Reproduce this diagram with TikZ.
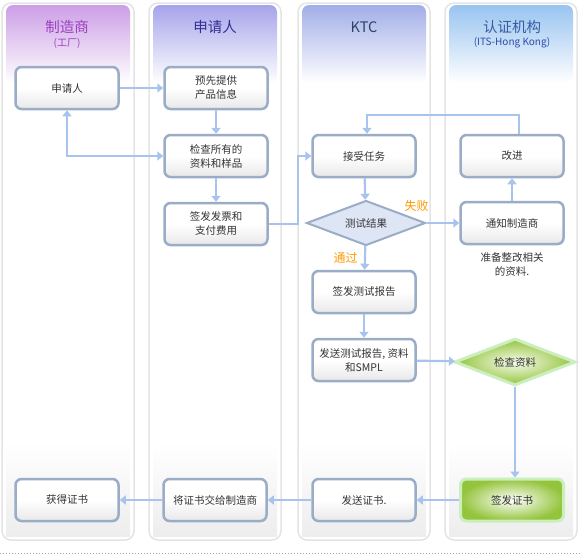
\documentclass[tikz,border=0pt]{standalone}
\usepackage{fontspec}
\setmainfont{Noto Sans CJK SC}
\usetikzlibrary{shapes.geometric, arrows.meta}
\definecolor{boxline}{RGB}{154,172,198}
\definecolor{arrowc}{RGB}{168,196,238}
\definecolor{laneline}{RGB}{228,228,228}
\definecolor{hdpurple}{RGB}{204,158,230}
\definecolor{hdviolet}{RGB}{166,164,234}
\definecolor{hdblue}{RGB}{162,174,232}
\definecolor{hdsky}{RGB}{152,196,240}
\definecolor{failc}{RGB}{255,153,0}
\definecolor{greenc}{RGB}{148,196,60}
\definecolor{greenline}{RGB}{202,238,188}
\definecolor{diafill}{RGB}{222,230,246}

\begin{document}
\begin{tikzpicture}[x=1pt, y=-1pt, >={Triangle[length=6pt, width=9pt]},
    every node/.style = {font=\fontsize{10.5}{14}\selectfont, text=black!80},
    box/.style = {draw=boxline, line width=2.5pt, rounded corners=6pt, minimum width=103pt, minimum height=42pt,
        top color=white, bottom color=black!9, middle color=white, align=center},
    arr/.style = {draw=arrowc, line width=2.2pt, ->},
    title/.style = {font=\fontsize{14.5}{16}\selectfont},
    subtitle/.style = {font=\fontsize{10}{12}\selectfont},
    resultlabel/.style = {text=failc, font=\fontsize{12}{14}\selectfont}]
        \useasboundingbox (0,0) rectangle (580,555);

        % lanes
        \foreach \x/\c in {2/hdpurple, 149/hdviolet, 298/hdblue, 445/hdsky} {
            \shade[top color=white, bottom color=black!7] (\x+4,443) rectangle ++(124,93);
            \shade[rounded corners=7pt, top color=\c, bottom color=white] (\x+4,5) rectangle ++(124,78);
            \draw[laneline, line width=1.5pt, rounded corners=9pt] (\x,3) rectangle ++(132,537);
        }
        \draw[black!35, dash pattern=on 1pt off 2pt] (0,553) -- (580,553);

        \node[title, text={rgb,255:red,156;green,64;blue,190}] (h1) at (67,27) {制造商};
        \node[subtitle, text={rgb,255:red,156;green,64;blue,190}] at (67,43) {(工厂)};
        \node[title, text={rgb,255:red,48;green,48;blue,150}] (h2) at (215,27) {申请人};
        \node[title, text={rgb,255:red,46;green,66;blue,104}] (h3) at (364,27) {KTC};
        \node[title, text={rgb,255:red,54;green,92;blue,164}] (h4) at (512,27) {认证机构};
        \node[subtitle, text={rgb,255:red,44;green,76;blue,172}] at (512,43) {(ITS-Hong Kong)};

        % boxes
        \node[box] (sq) at (67,88) {申请人};
        \node[box] (tg) at (216,88) {预先提供\\产品信息};
        \node[box] (jc) at (216,156) {检查所有的\\资料和样品};
        \node[box] (fp) at (216,224) {签发发票和\\支付费用};
        \node[box] (js) at (364,156) {接受任务};
        \node[draw=boxline, line width=2pt, fill=diafill, shape=diamond, aspect=2.6, minimum width=119pt,
            minimum height=45pt, inner sep=0pt] (cs) at (366,223) {测试结果};
        \node[box] (gj) at (512,156) {改进};
        \node[box] (tz) at (512,223) {通知制造商};
        \node[align=center] (bz) at (512,264) {准备整改相关\\的资料.};
        \node[box] (bg) at (364,292) {签发测试报告};
        \node[box] (fs) at (364,360) {发送测试报告, 资料\\和SMPL};
        \node[draw=greenline, line width=3pt, shape=diamond, aspect=2.5, minimum width=121pt, minimum height=47pt,
            inner sep=0pt, inner color={rgb,255:red,246;green,251;blue,236}, outer color=greenc] (jz) at (515,362) {检查资料};
        \node[box, draw=greenline, line width=3pt, inner color=white, outer color=greenc] (qf) at (512,500) {签发证书};
        \node[box] (fz) at (364,500) {发送证书.};
        \node[box] (jj) at (215,500) {将证书交给制造商};
        \node[box] (hd) at (67,500) {获得证书};

        % connectors
        \draw[arr] (sq) -- (tg);
        \draw[arr] (tg) -- (jc);
        \draw[arr, <->] (sq) |- (jc);
        \draw[arr] (jc) -- (fp);
        \draw[arr] (fp.east) -- ++(29,0) |- (js);
        \draw[arr] (js) -- (cs);
        \draw[arr] (cs) -- node[resultlabel, at start, anchor=south, xshift=-10pt, yshift=7pt] {失败} (tz);
        \draw[arr] (cs) -- node[resultlabel, left, xshift=-3pt] {通过} (bg);
        \draw[arr] (tz) -- (gj);
        \draw[arr] ([xshift=7pt]gj.north) -- ++(0,-19) -| ([xshift=3pt]js.north);
        \draw[arr] (bg) -- (fs);
        \draw[arr] (fs) -- (jz);
        \draw[arr] (jz) -- (jz |- qf.north);
        \draw[arr] (qf) -- (fz);
        \draw[arr] (fz) -- (jj);
        \draw[arr] (jj) -- (hd);
    \end{tikzpicture}
\end{document}
